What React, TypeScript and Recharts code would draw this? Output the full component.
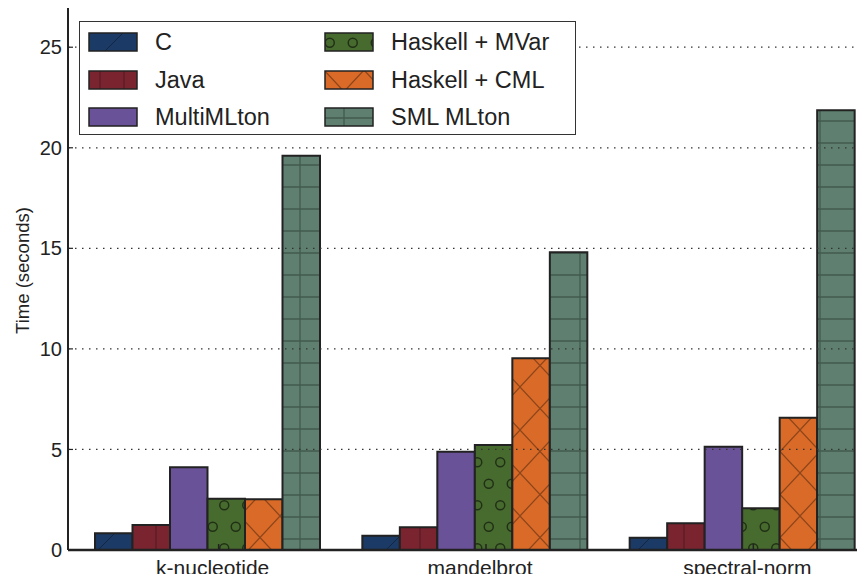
import React from 'react';
import { BarChart, Bar, XAxis, YAxis, ReferenceLine } from 'recharts';

// benchmark run times in seconds
const benchmarks = ['k-nucleotide', 'mandelbrot', 'spectral-norm'];
const cTimes = [0.83, 0.71, 0.61];
const javaTimes = [1.24, 1.13, 1.33];
const multiMLtonTimes = [4.11, 4.89, 5.14];
const mvarTimes = [2.55, 5.22, 2.07];
const cmlTimes = [2.52, 9.54, 6.58];
const smlMLtonTimes = [19.6, 14.81, 21.86];

const yTicks = [0, 5, 10, 15, 20, 25];
const gridLevels = [5, 10, 15, 20, 25];
const yMax = 27;

const series = [
  { key: 'c', name: 'C', values: cTimes, pattern: 'patC' },
  { key: 'java', name: 'Java', values: javaTimes, pattern: 'patJava' },
  { key: 'multi', name: 'MultiMLton', values: multiMLtonTimes, pattern: 'patMulti' },
  { key: 'mvar', name: 'Haskell + MVar', values: mvarTimes, pattern: 'patMVar' },
  { key: 'cml', name: 'Haskell + CML', values: cmlTimes, pattern: 'patCML' },
  { key: 'sml', name: 'SML MLton', values: smlMLtonTimes, pattern: 'patSML' },
];

const data = benchmarks.map((name, i) => {
  const row: Record<string, string | number> = { name };
  series.forEach((s) => {
    row[s.key] = s.values[i];
  });
  return row;
});

const FONT = '"Liberation Sans", Arial, Helvetica, sans-serif';
const INK = '#222';
const HATCH = 'rgba(0,0,0,0.35)';

const PatternDefs = () => (
  <defs>
    <pattern id="patC" patternUnits="userSpaceOnUse" width={36} height={36}>
      <rect width={36} height={36} fill="#1b3a66" />
      <path d="M0,36 L36,0 M-4,4 L4,-4 M32,40 L40,32" stroke={HATCH} strokeWidth={1} />
    </pattern>
    <pattern id="patJava" patternUnits="userSpaceOnUse" width={24} height={24}>
      <rect width={24} height={24} fill="#7a2430" />
      <path d="M12,0 L12,24" stroke={HATCH} strokeWidth={1} />
    </pattern>
    <pattern id="patMulti" patternUnits="userSpaceOnUse" width={10} height={10}>
      <rect width={10} height={10} fill="#6a5299" />
    </pattern>
    <pattern id="patMVar" patternUnits="userSpaceOnUse" width={23} height={43}>
      <rect width={23} height={43} fill="#476a2e" />
      <circle cx={5.75} cy={10.8} r={4.5} fill="none" stroke="rgba(0,0,0,0.55)" strokeWidth={1.5} />
      <circle cx={17.25} cy={32.3} r={4.5} fill="none" stroke="rgba(0,0,0,0.55)" strokeWidth={1.5} />
    </pattern>
    <pattern id="patCML" patternUnits="userSpaceOnUse" width={40} height={43}>
      <rect width={40} height={43} fill="#d96a28" />
      <path d="M0,0 L40,43 M40,0 L0,43" stroke={HATCH} strokeWidth={1.2} />
    </pattern>
    <pattern id="patSML" patternUnits="userSpaceOnUse" width={40} height={22}>
      <rect width={40} height={22} fill="#5f8070" />
      <path d="M0,11 L40,11 M20,0 L20,22" stroke="rgba(0,0,0,0.3)" strokeWidth={1.3} />
    </pattern>
  </defs>
);

const BenchTick = (props: any) => {
  const { x, y, payload } = props;
  return (
    <g>
      <line x1={x + 11} x2={x + 11} y1={y - 10} y2={y - 16} stroke={INK} strokeWidth={1.5} />
      <text x={x + 5} y={y} dy="0.71em" textAnchor="middle" fill={INK} fontSize={21} fontFamily={FONT}>
        {payload.value}
      </text>
    </g>
  );
};

const TimeLabel = (props: any) => {
  const { viewBox } = props;
  const cx = viewBox.x + 22;
  const cy = viewBox.y + viewBox.height / 2 - 8;
  return (
    <text
      x={cx}
      y={cy}
      transform={`rotate(-90, ${cx}, ${cy})`}
      textAnchor="middle"
      dominantBaseline="central"
      fill={INK}
      fontSize={18.5}
      fontFamily={FONT}
    >
      Time (seconds)
    </text>
  );
};

const LegendBox = () => (
  <div
    style={{
      position: 'absolute',
      left: 79,
      top: 21,
      width: 497,
      height: 114,
      boxSizing: 'border-box',
      border: '1.5px solid #333',
      background: '#fff',
      fontFamily: FONT,
      fontSize: 23.5,
      color: INK,
    }}
  >
    {series.map((s, i) => {
      const col = Math.floor(i / 3);
      const row = i % 3;
      return (
        <div
          key={s.key}
          style={{
            position: 'absolute',
            left: col === 0 ? 8 : 244,
            top: 20 + row * 37.5 - 14,
            height: 28,
            display: 'flex',
            alignItems: 'center',
            whiteSpace: 'nowrap',
          }}
        >
          <svg width={50} height={20} style={{ display: 'block' }}>
            <rect x={1} y={1} width={48} height={18} fill={`url(#${s.pattern})`} stroke={INK} strokeWidth={1.5} />
          </svg>
          <span style={{ marginLeft: 17, lineHeight: '28px' }}>{s.name}</span>
        </div>
      );
    })}
  </div>
);

export default function App() {
  return (
    <div style={{ margin: -8, width: 865, height: 582, overflow: 'hidden', position: 'relative', background: '#fff' }}>
      <BarChart
        width={890}
        height={582}
        data={data}
        margin={{ top: 7, right: 8, bottom: 0, left: 0 }}
        barGap={0}
        barSize={37.5}
      >
        <PatternDefs />
        <XAxis
          dataKey="name"
          height={32}
          padding={{ left: 6, right: 6 }}
          axisLine={{ stroke: INK, strokeWidth: 2.5 }}
          tickLine={false}
          tickSize={0}
          tickMargin={10}
          tick={<BenchTick />}
          interval={0}
        />
        <YAxis
          width={68}
          domain={[0, yMax]}
          ticks={yTicks}
          allowDataOverflow
          axisLine={{ stroke: INK, strokeWidth: 2 }}
          tickLine={{ stroke: INK, strokeWidth: 1.2 }}
          tickSize={-5}
          tickMargin={11}
          tick={{ fill: INK, fontSize: 20, fontFamily: FONT }}
          label={<TimeLabel />}
        />
        {series.map((s) => (
          <Bar
            key={s.key}
            dataKey={s.key}
            name={s.name}
            fill={`url(#${s.pattern})`}
            stroke={INK}
            strokeWidth={2}
            isAnimationActive={false}
          />
        ))}
        {gridLevels.map((v) => (
          <ReferenceLine key={v} y={v} stroke="#333" strokeWidth={1.2} strokeDasharray="1.5 5.5" />
        ))}
        <ReferenceLine y={yMax} stroke={INK} strokeWidth={2} />
      </BarChart>
      <LegendBox />
    </div>
  );
}
